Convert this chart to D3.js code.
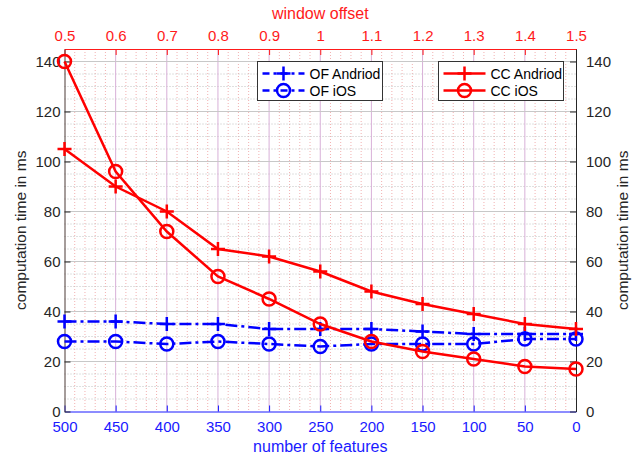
<!DOCTYPE html>
<html>
<head>
<meta charset="utf-8">
<script src="https://cdn.jsdelivr.net/npm/d3@7"></script>
<style>
  body { margin: 0; background: #fff; }
  text { font-family: "Liberation Sans", Arial, sans-serif; }
</style>
</head>
<body>
<script>
var width = 640,
    height = 458;

var features = [500, 450, 400, 350, 300, 250, 200, 150, 100, 50, 0];
var offsetTicks = [0.5, 0.6, 0.7, 0.8, 0.9, 1, 1.1, 1.2, 1.3, 1.4, 1.5];
var yTicks = [0, 20, 40, 60, 80, 100, 120, 140];

var ofAndroid = [36, 36, 35, 35, 33, 33, 33, 32, 31, 31, 31];
var ofIos     = [28, 28, 27, 28, 27, 26, 27, 27, 27, 29, 29];
var ccAndroid = [105, 90, 80, 65, 62, 56, 48, 43, 39, 35, 33];
var ccIos     = [140, 96, 72, 54, 45, 35, 28, 24, 21, 18, 17];

var pLeft = 64.5, pRight = 576, pTop = 49, pBottom = 411.5;

var x = d3.scaleLinear().domain([500, 0]).range([pLeft, pRight]);
var xTop = d3.scaleLinear().domain([0.5, 1.5]).range([pLeft, pRight]);
var y = d3.scaleLinear().domain([0, 145]).range([pBottom, pTop]);

var svg = d3.select("body").append("svg")
    .attr("width", width)
    .attr("height", height);

// minor grid
var minorX = d3.range(0, 501, 10).filter(function(d) { return d % 50 !== 0; });
svg.append("g").selectAll("line")
    .data(minorX)
    .enter().append("line")
    .attr("x1", function(d) { return x(d); })
    .attr("x2", function(d) { return x(d); })
    .attr("y1", pTop).attr("y2", pBottom)
    .attr("stroke", "#f2b0b0")
    .attr("stroke-width", 1)
    .attr("stroke-dasharray", "1,2");

var minorY = d3.range(5, 145, 5).filter(function(d) { return d % 20 !== 0; });
svg.append("g").selectAll("line")
    .data(minorY)
    .enter().append("line")
    .attr("x1", pLeft).attr("x2", pRight)
    .attr("y1", function(d) { return y(d); })
    .attr("y2", function(d) { return y(d); })
    .attr("stroke", "#c0c0c0")
    .attr("stroke-width", 1)
    .attr("stroke-dasharray", "1,2");

// major grid
svg.append("g").selectAll("line")
    .data(features.slice(1, -1))
    .enter().append("line")
    .attr("x1", function(d) { return x(d); })
    .attr("x2", function(d) { return x(d); })
    .attr("y1", pTop).attr("y2", pBottom)
    .attr("stroke", "#d8b0d8")
    .attr("stroke-width", 1);

svg.append("g").selectAll("line")
    .data(yTicks.slice(1))
    .enter().append("line")
    .attr("x1", pLeft).attr("x2", pRight)
    .attr("y1", function(d) { return y(d); })
    .attr("y2", function(d) { return y(d); })
    .attr("stroke", "#c8c8c8")
    .attr("stroke-width", 1);

// axes
function styleAxis(g, color) {
    g.select(".domain").attr("stroke", color).attr("stroke-width", 1);
    g.selectAll(".tick line").attr("stroke", color);
    g.selectAll(".tick text").attr("fill", color)
        .style("font-family", "'Liberation Sans', Arial, sans-serif")
        .style("font-size", "15px");
}

var gBottom = svg.append("g")
    .attr("transform", "translate(0," + pBottom + ")")
    .call(d3.axisBottom(x).tickValues(features).tickSizeInner(-6).tickSizeOuter(0).tickPadding(10));
styleAxis(gBottom, "#1a1aff");

var gTop = svg.append("g")
    .attr("transform", "translate(0," + pTop + ")")
    .call(d3.axisTop(xTop).tickValues(offsetTicks).tickFormat(d3.format("")).tickSizeInner(-6).tickSizeOuter(0).tickPadding(8));
styleAxis(gTop, "#ff1a1a");

var gLeft = svg.append("g")
    .attr("transform", "translate(" + pLeft + ",0)")
    .call(d3.axisLeft(y).tickValues(yTicks).tickSizeInner(-6).tickSizeOuter(0).tickPadding(4));
styleAxis(gLeft, "#262626");
gLeft.select(".domain").attr("stroke", "#4d3a36");

var gRight = svg.append("g")
    .attr("transform", "translate(" + pRight + ",0)")
    .call(d3.axisRight(y).tickValues(yTicks).tickSizeInner(-6).tickSizeOuter(0).tickPadding(10));
styleAxis(gRight, "#262626");

// axis titles
svg.append("text")
    .attr("x", (pLeft + pRight) / 2).attr("y", 19)
    .attr("text-anchor", "middle")
    .attr("fill", "#ff1a1a")
    .style("font-size", "16px")
    .text("window offset");

svg.append("text")
    .attr("x", (pLeft + pRight) / 2).attr("y", 452)
    .attr("text-anchor", "middle")
    .attr("fill", "#1a1aff")
    .style("font-size", "16px")
    .text("number of features");

svg.append("text")
    .attr("transform", "translate(26," + (pTop + pBottom) / 2 + ") rotate(-90)")
    .attr("text-anchor", "middle")
    .attr("fill", "#262626")
    .style("font-size", "15.5px")
    .text("computation time in ms");

svg.append("text")
    .attr("transform", "translate(628," + (pTop + pBottom) / 2 + ") rotate(-90)")
    .attr("text-anchor", "middle")
    .attr("fill", "#262626")
    .style("font-size", "15.5px")
    .text("computation time in ms");

// series
var series = [
    { name: "OF Andriod", values: ofAndroid, color: "#0000ff", dash: "12,4,3,4", marker: "plus" },
    { name: "OF iOS", values: ofIos, color: "#0000ff", dash: "12,4,3,4", marker: "circle" },
    { name: "CC Andriod", values: ccAndroid, color: "#ff0000", dash: null, marker: "plus" },
    { name: "CC iOS", values: ccIos, color: "#ff0000", dash: null, marker: "circle" }
];

var line = d3.line()
    .x(function(d) { return x(d.f); })
    .y(function(d) { return y(d.v); });

function drawMarker(g, type, cx, cy, color) {
    if (type === "plus") {
        g.append("path")
            .attr("d", "M" + (cx - 7) + "," + cy + "H" + (cx + 7) + "M" + cx + "," + (cy - 7) + "V" + (cy + 7))
            .attr("stroke", color).attr("stroke-width", 2.5).attr("fill", "none");
    } else {
        g.append("circle")
            .attr("cx", cx).attr("cy", cy).attr("r", 6.5)
            .attr("stroke", color).attr("stroke-width", 2.5).attr("fill", "none");
    }
}

series.forEach(function(s) {
    var pts = features.map(function(f, i) { return { f: f, v: s.values[i] }; });
    var g = svg.append("g");
    g.append("path")
        .datum(pts)
        .attr("d", line)
        .attr("fill", "none")
        .attr("stroke", s.color)
        .attr("stroke-width", 2.5)
        .attr("stroke-dasharray", s.dash);
    pts.forEach(function(p) { drawMarker(g, s.marker, x(p.f), y(p.v), s.color); });
});

// legends
function legend(x0, items) {
    var g = svg.append("g").attr("transform", "translate(" + x0 + ",61.5)");
    g.append("rect")
        .attr("width", 125).attr("height", 39)
        .attr("fill", "#fff").attr("stroke", "#333").attr("stroke-width", 1);
    items.forEach(function(s, i) {
        var yy = 12 + i * 17;
        g.append("line")
            .attr("x1", 5).attr("x2", 47).attr("y1", yy).attr("y2", yy)
            .attr("stroke", s.color).attr("stroke-width", 2.5)
            .attr("stroke-dasharray", s.dash ? "7,4,3,4" : null);
        drawMarker(g, s.marker, 26, yy, s.color);
        g.append("text")
            .attr("x", 52).attr("y", yy + 5)
            .attr("fill", "#000")
            .style("font-size", "14px")
            .text(s.name);
    });
}
legend(257.5, series.slice(0, 2));
legend(438.5, series.slice(2));
</script>
</body>
</html>
